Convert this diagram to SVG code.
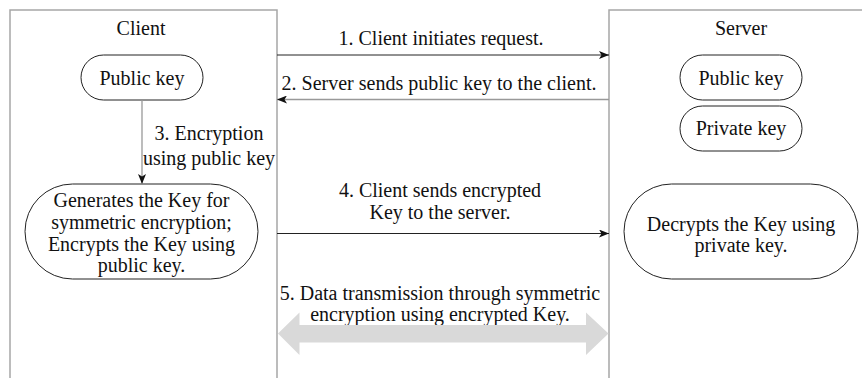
<svg xmlns="http://www.w3.org/2000/svg" width="862" height="378" viewBox="0 0 862 378">
<style>
text{font-family:"Liberation Serif","Times New Roman",serif;font-size:20px;fill:#111;text-anchor:middle}
.frame{fill:none;stroke:#a6a6a6;stroke-width:1.5}
.node{fill:#fff;stroke:#222;stroke-width:1}
.dark{stroke:#222;stroke-width:1;fill:none}
.gray{stroke:#999;stroke-width:1.3;fill:none}
</style>
<defs>
<marker id="ah" viewBox="0 0 10 8" refX="10" refY="4" markerWidth="10" markerHeight="8" markerUnits="userSpaceOnUse" orient="auto">
<path d="M0,0 L10,4 L0,8 L2.5,4 Z" fill="#111"/>
</marker>
</defs>
<g id="client">
<path class="frame" d="M10,378 V10 H277 V378"/>
<text x="141" y="35">Client</text>
</g>
<g id="server">
<path class="frame" d="M609,378 V10 H862"/>
<text x="741" y="35">Server</text>
</g>
<g id="client-public-key">
<rect class="node" x="81" y="55" width="122" height="45" rx="22.5"/>
<text x="142" y="85">Public key</text>
</g>
<g id="client-generate">
<rect class="node" x="25" y="184" width="233" height="95" rx="47.5"/>
<text x="141.5" y="207">Generates the Key for</text>
<text x="141.5" y="229">symmetric encryption;</text>
<text x="141.5" y="250.5">Encrypts the Key using</text>
<text x="141.5" y="272">public key.</text>
</g>
<g id="server-public-key">
<rect class="node" x="680" y="55" width="122" height="45" rx="22.5"/>
<text x="741" y="85">Public key</text>
</g>
<g id="server-private-key">
<rect class="node" x="680" y="106" width="122" height="45" rx="22.5"/>
<text x="741" y="135">Private key</text>
</g>
<g id="server-decrypt">
<rect class="node" x="624" y="184" width="234" height="95" rx="47.5"/>
<text x="741" y="230.5">Decrypts the Key using</text>
<text x="741" y="251.5">private key.</text>
</g>
<g id="connectors">
<line class="dark" x1="277" y1="55" x2="609" y2="55" marker-end="url(#ah)"/>
<text x="441" y="45">1. Client initiates request.</text>
<line class="gray" x1="609" y1="99.5" x2="277" y2="99.5" marker-end="url(#ah)"/>
<text x="439" y="90">2. Server sends public key to the client.</text>
<line class="gray" x1="142" y1="100" x2="142" y2="184" marker-end="url(#ah)"/>
<text x="209" y="140">3. Encryption</text>
<text x="209" y="165">using public key</text>
<line class="dark" x1="277" y1="233.5" x2="609" y2="233.5" marker-end="url(#ah)"/>
<text x="440" y="197">4. Client sends encrypted</text>
<text x="440" y="219">Key to the server.</text>
<text x="440" y="300">5. Data transmission through symmetric</text>
<text x="440" y="321">encryption using encrypted Key.</text>
<path d="M278,333.5 L299.5,312.5 V325 H586 V312.5 L608.5,333.5 L586,355 V342.5 H299.5 V355 Z" fill="#d9d9d9"/>
</g>
</svg>
